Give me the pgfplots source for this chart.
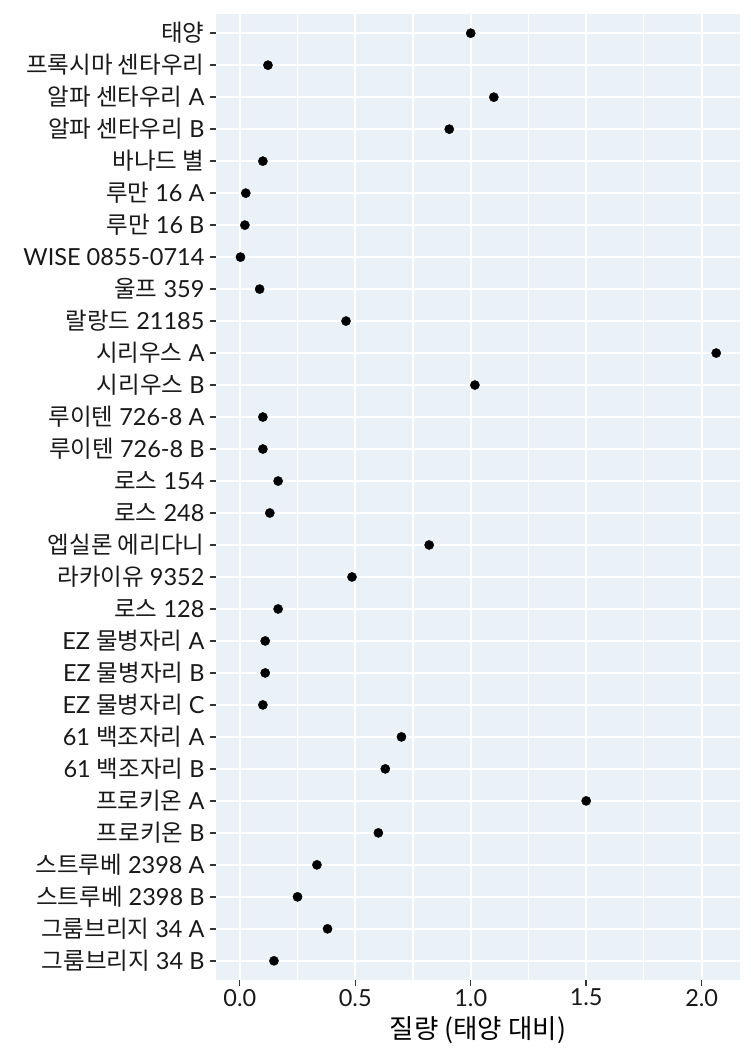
\documentclass[border=0pt]{standalone}
\usepackage{pgfplots}
\pgfplotsset{compat=1.18}
\usepackage{fontspec}
\setmainfont{Lato}
\newfontfamily\kr{Noto Sans CJK KR}
\definecolor{panel}{RGB}{234,242,248}
\definecolor{tickc}{RGB}{51,51,51}
\begin{document}
\begin{tikzpicture}[x=1pt,y=1pt]
\path[use as bounding box] (0,0) rectangle (750,1050);
\begin{axis}[
  at={(216pt,70pt)}, anchor=south west,
  scale only axis, width=524pt, height=966pt,
  xmin=-0.103, xmax=2.166, ymin=0.4, ymax=30.6, y dir=reverse,
  axis background/.style={fill=panel},
  axis line style={draw=none},
  xtick={0,0.5,1,1.5,2}, xticklabels={0.0,0.5,1.0,1.5,2.0},
  minor xtick={0.25,0.75,1.25,1.75},
  ytick={1,...,30},
  yticklabels={
    {\kr 태양},
    {\kr 프록시마 센타우리},
    {\kr 알파 센타우리} A,
    {\kr 알파 센타우리} B,
    {\kr 바나드 별},
    {\kr 루만} 16 A,
    {\kr 루만} 16 B,
    WISE 0855-0714,
    {\kr 울프} 359,
    {\kr 랄랑드} 21185,
    {\kr 시리우스} A,
    {\kr 시리우스} B,
    {\kr 루이텐} 726-8 A,
    {\kr 루이텐} 726-8 B,
    {\kr 로스} 154,
    {\kr 로스} 248,
    {\kr 엡실론 에리다니},
    {\kr 라카이유} 9352,
    {\kr 로스} 128,
    EZ {\kr 물병자리} A,
    EZ {\kr 물병자리} B,
    EZ {\kr 물병자리} C,
    61 {\kr 백조자리} A,
    61 {\kr 백조자리} B,
    {\kr 프로키온} A,
    {\kr 프로키온} B,
    {\kr 스트루베} 2398 A,
    {\kr 스트루베} 2398 B,
    {\kr 그룸브리지} 34 A,
    {\kr 그룸브리지} 34 B},
  grid=both,
  major grid style={white, line width=2.2pt},
  minor grid style={white, line width=1.1pt},
  tick align=outside,
  major tick length=5.5pt, minor tick length=0pt,
  tick style={draw=tickc, line width=1.4pt},
  xtick pos=bottom, ytick pos=left,
  tick label style={font=\fontsize{23.5}{25}\selectfont, text=black!90},
  yticklabel style={xshift=-2.5pt},
  xticklabel style={yshift=0pt},
  xlabel={\kr 질량 (태양 대비)},
  xlabel style={font=\fontsize{26.5}{28}\selectfont\kr, text=black, yshift=-3pt},
  /pgf/number format/assume math mode=true,
]
\addplot[only marks, mark=*, mark size=4.6pt, black] coordinates {
(1.0,1) (0.122,2) (1.1,3) (0.907,4) (0.10,5) (0.026,6) (0.022,7) (0.003,8)
(0.086,9) (0.46,10) (2.063,11) (1.018,12) (0.10,13) (0.10,14) (0.166,15)
(0.13,16) (0.82,17) (0.486,18) (0.166,19) (0.11,20) (0.11,21) (0.10,22)
(0.70,23) (0.63,24) (1.5,25) (0.6,26) (0.334,27) (0.25,28) (0.38,29) (0.148,30)
};
\end{axis}
\end{tikzpicture}
\end{document}
